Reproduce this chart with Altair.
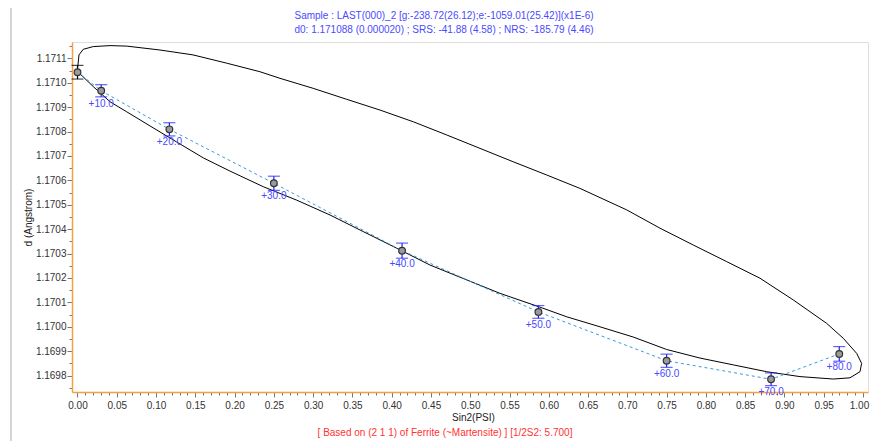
import altair as alt
import pandas as pd

# ---- data ----
psi_labels = ["", "+10.0", "+20.0", "+30.0", "+40.0", "+50.0", "+60.0", "+70.0", "+80.0"]
sin2_psi = [0.0, 0.0302, 0.1170, 0.2500, 0.4132, 0.5868, 0.7500, 0.8830, 0.9698]
d_values = [1.171043, 1.170967, 1.170809, 1.170588, 1.170312, 1.170061, 1.169861, 1.169785, 1.169889]
d_errors = [0.000028, 0.000025, 0.000027, 0.000029, 0.000031, 0.000026, 0.000027, 0.000026, 0.000030]
bar_colors = ["#000000", "#1f1fff", "#1f1fff", "#1f1fff", "#1f1fff", "#1f1fff", "#1f1fff", "#1f1fff", "#1f1fff"]

ellipse_x = [0.000, 0.001, 0.0019, 0.0074, 0.0201, 0.0414, 0.0626, 0.105, 0.147, 0.190, 0.2323,
             0.2578, 0.300, 0.3427, 0.3851, 0.4275, 0.470, 0.5124, 0.5548, 0.5973, 0.6397,
             0.6992, 0.7416, 0.784, 0.8265, 0.8689, 0.9113, 0.9538, 0.9749, 0.992, 0.9983,
             0.9962, 0.9834, 0.9622, 0.9198, 0.8774, 0.8349, 0.7925, 0.7501, 0.7076, 0.6652,
             0.6228, 0.5875, 0.5379, 0.4488, 0.4064, 0.3638, 0.3215, 0.279, 0.2365,
             0.1941, 0.1602, 0.1263, 0.0923, 0.0626, 0.0414, 0.0201, 0.001, 0.000]
ellipse_d = [1.171056, 1.171085, 1.171114, 1.171137, 1.171148, 1.171152, 1.171150, 1.171134, 1.171114, 1.171080, 1.171045,
             1.171018, 1.170977, 1.170932, 1.170888, 1.170840, 1.170786, 1.170731, 1.170676, 1.170622, 1.170567,
             1.170479, 1.170404, 1.170335, 1.170267, 1.170199, 1.170110, 1.170014, 1.169953, 1.169891, 1.169850,
             1.169816, 1.169791, 1.169786, 1.169796, 1.169816, 1.169844, 1.169872, 1.169907, 1.169958, 1.170000,
             1.170041, 1.170082, 1.170137, 1.170253, 1.170322, 1.170390, 1.170458, 1.170519, 1.170574,
             1.170638, 1.170692, 1.170757, 1.170823, 1.170881, 1.170922, 1.170984, 1.171043, 1.171056]

x_tick_values = [i / 100 for i in range(0, 101)]
y_tick_values = [round(1.16975 + i * 0.00005, 5) for i in range(29)]

title_line1 = "Sample : LAST(000)_2 [g:-238.72(26.12);e:-1059.01(25.42)](x1E-6)"
title_line2 = "d0: 1.171088 (0.000020) ; SRS: -41.88 (4.58) ; NRS: -185.79 (4.46)"
note_text = "[ Based on (2 1 1) of Ferrite (~Martensite) ] [1/2S2: 5.700]"

FONT = "Liberation Sans"
W, H = 796, 350

pts = pd.DataFrame({
    "sin2": sin2_psi,
    "d": d_values,
    "lo": [v - e for v, e in zip(d_values, d_errors)],
    "hi": [v + e for v, e in zip(d_values, d_errors)],
    "lab": psi_labels,
    "col": bar_colors,
    "i": list(range(len(sin2_psi))),
})
ell = pd.DataFrame({"sin2": ellipse_x, "d": ellipse_d, "i": list(range(len(ellipse_x)))})

xscale = alt.Scale(domain=[-0.007, 1.0064], nice=False, zero=False)
yscale = alt.Scale(domain=[1.1697329, 1.1711668], nice=False, zero=False)

xaxis = alt.Axis(
    title="Sin2(PSI)", values=x_tick_values,
    labelExpr="abs(round(datum.value*100) % 5) == 0 ? format(datum.value, '.2f') : ''",
    tickSize={"condition": {"test": "abs(round(datum.value*100) % 5) == 0", "value": 5}, "value": 3},
    labelOffset={"condition": {"test": "datum.value > 0.995", "value": -4}, "value": 0},
    labelOverlap=False, labelFlush=False, grid=False,
    domainColor="#f5a142", domainWidth=1.5, tickColor="#777777",
    labelColor="#333333", labelFont=FONT, labelFontSize=10, labelPadding=3,
    titleFont=FONT, titleFontSize=10, titleFontWeight="normal", titleColor="#222222",
    titlePadding=2, titleX=W / 2 + 3,
)
yaxis = alt.Axis(
    title="d (Angstrom)", values=y_tick_values,
    labelExpr="abs(round(datum.value*100000) % 10) == 0 ? format(datum.value, '.4f') : ''",
    tickSize={"condition": {"test": "abs(round(datum.value*100000) % 10) == 0", "value": 5}, "value": 3},
    labelOverlap=False, labelFlush=False, grid=False,
    domainColor="#f5a142", domainWidth=1.5, tickColor="#777777",
    labelColor="#333333", labelFont=FONT, labelFontSize=10, labelPadding=1,
    titleFont=FONT, titleFontSize=10, titleFontWeight="normal", titleColor="#222222",
    titleX=-44, titleY=H / 2, titleAngle=270, titleAlign="center", titleBaseline="middle",
)

X = lambda f: alt.X(f, scale=xscale, axis=xaxis)
Y = lambda f: alt.Y(f, scale=yscale, axis=yaxis)

base = alt.Chart(pts)

ellipse = alt.Chart(ell).mark_line(color="#000000", strokeWidth=1).encode(
    x=X("sin2:Q"), y=Y("d:Q"), order="i:Q",
)

dash = base.mark_line(color="#3a9ad9", strokeWidth=1, strokeDash=[3, 3]).encode(
    x=X("sin2:Q"), y=Y("d:Q"), order="i:Q",
)

bars = base.mark_rule(strokeWidth=1.2).encode(
    x=X("sin2:Q"), y=Y("lo:Q"), y2="hi:Q",
    color=alt.Color("col:N", scale=None),
)
cap_lo = base.mark_tick(orient="horizontal", size=12, thickness=1.2).encode(
    x=X("sin2:Q"), y=Y("lo:Q"), color=alt.Color("col:N", scale=None),
)
cap_hi = base.mark_tick(orient="horizontal", size=12, thickness=1.2).encode(
    x=X("sin2:Q"), y=Y("hi:Q"), color=alt.Color("col:N", scale=None),
)

points = base.mark_point(shape="circle", size=45, filled=False, fill="#9a9a9a", fillOpacity=1,
                         stroke="#333333", strokeWidth=1.2).encode(
    x=X("sin2:Q"), y=Y("d:Q"),
)

labels = base.mark_text(dy=13, color="#4848ff", font=FONT, fontSize=10).encode(
    x=X("sin2:Q"), y=Y("d:Q"), text="lab:N",
)


def free_text(txt, px, py, color):
    return alt.Chart(pd.DataFrame({"t": [txt]})).mark_text(
        color=color, font=FONT, fontSize=10, baseline="middle", align="center"
    ).encode(text="t:N", x=alt.value(px), y=alt.value(py))


title1 = free_text(title_line1, 372, -26, "#4a4aff")
title2 = free_text(title_line2, 372, -12, "#4a4aff")
note = free_text(note_text, 373, 391, "#ff3333")

edge = alt.Chart(pd.DataFrame({"t": [0]})).mark_rule(color="#aaaaaa", strokeWidth=1).encode(
    x=alt.value(-61), y=alt.value(-34), y2=alt.value(400)
)

chart = alt.layer(ellipse, dash, bars, cap_lo, cap_hi, points, labels,
                  title1, title2, note, edge).properties(
    width=W, height=H,
    padding={"left": 64, "top": 34, "right": 2, "bottom": 49},
    autosize=alt.AutoSizeParams(type="none"),
).configure_view(stroke="#000000", strokeWidth=1).configure_axis(
    labelOverlap=False
).configure(background="white")

chart.save("out.html", embed_options={"renderer": "svg", "actions": False})
